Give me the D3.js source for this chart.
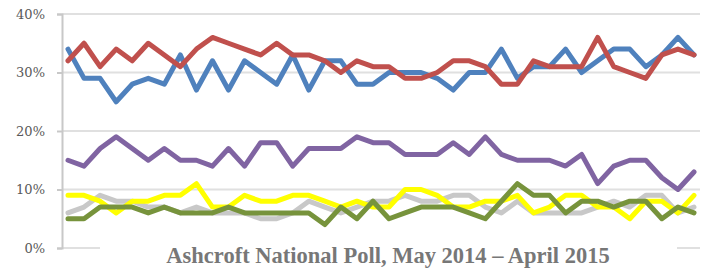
<!DOCTYPE html>
<html>
<head>
<meta charset="utf-8">
<script src="https://cdn.jsdelivr.net/npm/d3@7"></script>
<style>
  html, body { margin: 0; padding: 0; background: #ffffff; }
  svg { display: block; }
</style>
</head>
<body>
<svg id="chart" width="702" height="269"></svg>
<script>
// ---- data ----
const polls = ["W1","W2","W3","W4","W5","W6","W7","W8","W9","W10",
               "W11","W12","W13","W14","W15","W16","W17","W18","W19","W20",
               "W21","W22","W23","W24","W25","W26","W27","W28","W29","W30",
               "W31","W32","W33","W34","W35","W36","W37","W38","W39","W40"];
const yTicks = [0, 10, 20, 30, 40];
const title = "Ashcroft National Poll, May 2014 \u2013 April 2015";

const other = [6,7,9,8,8,7,7,6,7,6, 6,6,5,5,6,8,7,6,7,8, 8,9,8,8,9,9,7,6,8,6, 6,6,6,7,8,7,9,9,6,7];
const ukip  = [9,9,8,6,8,8,9,9,11,7, 7,9,8,8,9,9,8,7,8,7, 7,10,10,9,7,7,8,8,9,6, 7,9,9,7,7,5,8,8,6,9];
const green = [5,5,7,7,7,6,7,6,6,6, 7,6,6,6,6,6,4,7,5,8, 5,6,7,7,7,6,5,8,11,9, 9,6,8,8,7,8,8,5,7,6];
const libdem= [15,14,17,19,17,15,17,15,15,14, 17,14,18,18,14,17,17,17,19,18, 18,16,16,16,18,16,19,16,15,15, 15,14,16,11,14,15,15,12,10,13];
const con   = [34,29,29,25,28,29,28,33,27,32, 27,32,30,28,33,27,32,32,28,28, 30,30,30,29,27,30,30,34,29,31, 31,34,30,32,34,34,31,33,36,33];
const lab   = [32,35,31,34,32,35,33,31,34,36, 35,34,33,35,33,33,32,30,32,31, 31,29,29,30,32,32,31,28,28,32, 31,31,31,36,31,30,29,33,34,33];

const seriesList = [
  { name: "Other",  values: other,  color: "#c8c8c8" },
  { name: "UKIP",   values: ukip,   color: "#ffff00" },
  { name: "Green",  values: green,  color: "#77933c" },
  { name: "LibDem", values: libdem, color: "#8064a2" },
  { name: "Con",    values: con,    color: "#4f81bd" },
  { name: "Lab",    values: lab,    color: "#c0504d" }
];

// ---- layout ----
const svg = d3.select("#chart");
const plot = { left: 62, right: 700, top: 14, bottom: 248 };

const x = d3.scalePoint().domain(polls).range([68, 694]);
const y = d3.scaleLinear().domain([0, 40]).range([plot.bottom, plot.top]);

// gridlines
svg.append("g").selectAll("line").data(yTicks).join("line")
  .attr("x1", plot.left).attr("x2", plot.right)
  .attr("y1", d => y(d)).attr("y2", d => y(d))
  .attr("stroke", "#e0e0e0").attr("stroke-width", 2);

// y axis
const yAxis = d3.axisLeft(y).tickValues(yTicks).tickFormat(d => d + "%").tickSize(5).tickPadding(12);
const gy = svg.append("g").attr("transform", `translate(${plot.left},0)`).call(yAxis);
gy.select(".domain").attr("stroke", "#c8c8c8").attr("stroke-width", 2);
gy.selectAll(".tick line").attr("stroke", "#c8c8c8").attr("stroke-width", 2);
gy.selectAll(".tick text")
  .attr("fill", "#595959")
  .style("font-family", "'DejaVu Serif', serif")
  .style("font-size", "13px");

// lines
const line = d3.line()
  .x((d, i) => x(polls[i]))
  .y(d => y(d));

svg.append("g").selectAll("path").data(seriesList).join("path")
  .attr("d", d => line(d.values))
  .attr("fill", "none")
  .attr("stroke", d => d.color)
  .attr("stroke-width", 5)
  .attr("stroke-linejoin", "round")
  .attr("stroke-linecap", "round");

// title with white backing
svg.append("rect")
  .attr("x", 100).attr("y", 241).attr("width", 577).attr("height", 28)
  .attr("fill", "#ffffff");
svg.append("text")
  .attr("x", 388).attr("y", 263)
  .attr("text-anchor", "middle")
  .attr("fill", "#777777")
  .style("font-family", "'Liberation Serif', serif")
  .style("font-weight", "bold")
  .style("font-size", "22.5px")
  .text(title);
</script>
</body>
</html>
